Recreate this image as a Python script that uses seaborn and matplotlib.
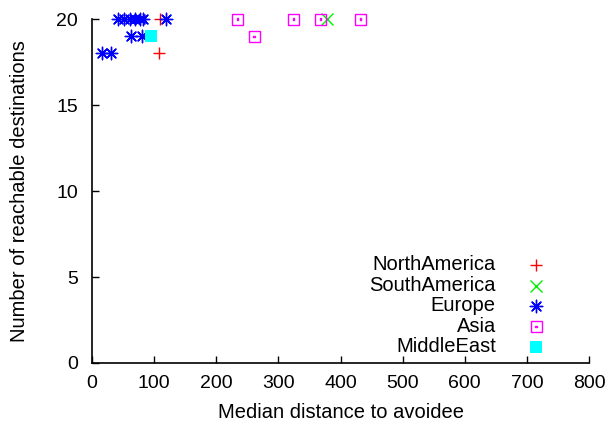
import numpy as np
import pandas as pd
import matplotlib
matplotlib.use("Agg")
import matplotlib.pyplot as plt
from matplotlib.path import Path
import seaborn as sns

# median distance to avoidee / number of reachable destinations, per region
na_x = [110, 108]
na_y = [20, 18]
sa_x = [379]
sa_y = [20]
eu_x = [42, 52, 61, 69, 77, 82, 119, 63, 81, 16, 31]
eu_y = [20, 20, 20, 20, 20, 20, 20, 19, 19, 18, 18]
asia_x = [234, 324, 368, 432, 261]
asia_y = [20, 20, 20, 20, 19]
me_x = [95]
me_y = [19]

x_ticks = [0, 100, 200, 300, 400, 500, 600, 700, 800]
y_ticks = [0, 5, 10, 15, 20]

sns.set_style("white", {"text.color": "black", "axes.labelcolor": "black",
                        "xtick.color": "black", "ytick.color": "black"})
plt.rcParams["font.family"] = ["Liberation Sans", "DejaVu Sans"]

# open square with a dot in the middle (gnuplot style)
sq_dot = Path(
    [(-1, -1), (1, -1), (1, 1), (-1, 1), (-1, -1),
     (-0.12, -0.12), (0.12, -0.12), (0.12, 0.12), (-0.12, 0.12), (-0.12, -0.12)],
    [Path.MOVETO, Path.LINETO, Path.LINETO, Path.LINETO, Path.CLOSEPOLY,
     Path.MOVETO, Path.LINETO, Path.LINETO, Path.LINETO, Path.CLOSEPOLY])

fig = plt.figure(figsize=(6.11, 4.33), dpi=100)
ax = fig.add_axes([0.1506, 0.1617, 0.8134, 0.7943])

groups = [
    ("NorthAmerica", na_x, na_y, dict(marker="+", color="red", s=75, linewidths=1)),
    ("SouthAmerica", sa_x, sa_y, dict(marker="x", color="#00ee00", s=75, linewidths=1)),
    ("Europe", eu_x, eu_y, dict(marker=(8, 2, 0), color="blue", s=80, linewidths=1)),
    ("Asia", asia_x, asia_y, dict(marker=sq_dot, facecolors="none", edgecolors="magenta", s=63, linewidths=1)),
    ("MiddleEast", me_x, me_y, dict(marker="s", color="cyan", s=63, linewidths=0)),
]
for name, xs, ys, kw in groups:
    df = pd.DataFrame({"x": xs, "y": ys})
    sns.scatterplot(data=df, x="x", y="y", ax=ax, label=name, clip_on=False, **kw)

ax.set_xlim(0, 800)
ax.set_ylim(0, 20)
ax.set_xticks(x_ticks)
ax.set_yticks(y_ticks)
ax.set_xlabel("Median distance to avoidee", fontsize=14.5)
ax.set_ylabel("Number of reachable destinations", fontsize=14.5)
ax.xaxis.set_label_coords(0.5, -0.115)
ax.yaxis.set_label_coords(-0.127, 0.5)
ax.tick_params(direction="in", length=5, width=1, labelsize=14,
               bottom=True, left=True, top=False, right=False)
ax.tick_params(axis="x", pad=9)
ax.tick_params(axis="y", pad=10)
for side in ["top", "right"]:
    ax.spines[side].set_visible(False)
for side in ["left", "bottom"]:
    ax.spines[side].set_color("black")
    ax.spines[side].set_linewidth(1.2)

ax.legend(loc="lower right", bbox_to_anchor=(0.938, -0.015), frameon=False,
          markerfirst=False, fontsize=14.5, handlelength=1.0, handletextpad=1.5,
          labelspacing=0.07, borderaxespad=0.2)

fig.savefig("out.png", dpi=100)
